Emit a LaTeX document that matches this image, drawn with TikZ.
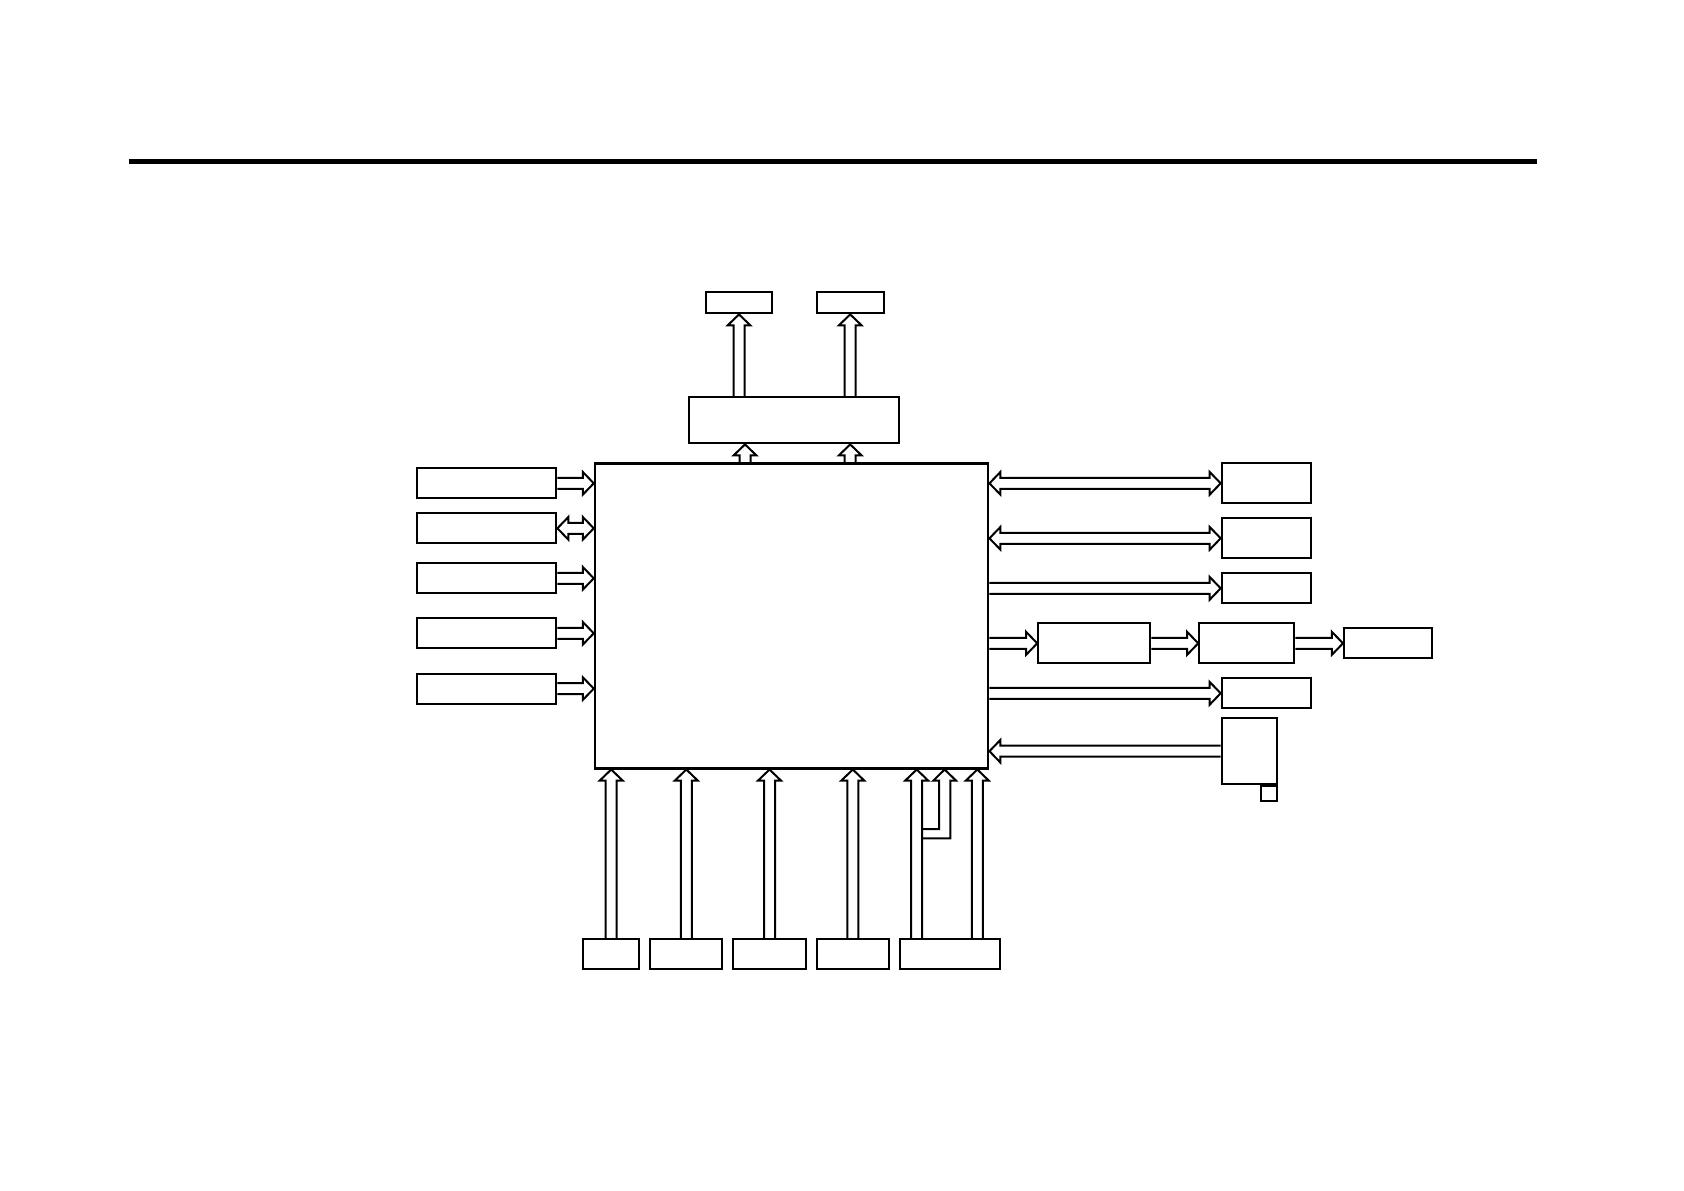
\documentclass[tikz,border=0pt]{standalone}
\usepackage{tikz}
\usetikzlibrary{calc}
\def\shaftw{2.75pt}
\def\headw{5.7pt}
\def\headl{5.5pt}
\tikzstyle{blk}=[rectangle, draw, line width=1.1pt, inner sep=0pt, fill=white]
\tikzstyle{lbox}=[blk, minimum width=69.5pt, minimum height=15pt]
\tikzstyle{rbox}=[blk, minimum width=44.65pt, minimum height=15pt]
\tikzstyle{bbox}=[blk, minimum height=15pt]
\tikzstyle{fatline}=[line width=1pt, line join=miter]
\tikzstyle{fat}=[fatline, to path={
	($(\tikztostart)!\shaftw!90:(\tikztotarget)$)
	-- ($(\tikztotarget)!\headl!(\tikztostart)!\shaftw!-90:(\tikztostart)$)
	-- ($(\tikztotarget)!\headl!(\tikztostart)!\headw!-90:(\tikztostart)$)
	-- (\tikztotarget)
	-- ($(\tikztotarget)!\headl!(\tikztostart)!\headw!90:(\tikztostart)$)
	-- ($(\tikztotarget)!\headl!(\tikztostart)!\shaftw!90:(\tikztostart)$)
	-- ($(\tikztostart)!\shaftw!-90:(\tikztotarget)$)}]
\tikzstyle{fatboth}=[fatline, to path={
	(\tikztostart)
	-- ($(\tikztostart)!\headl!(\tikztotarget)!\headw!90:(\tikztotarget)$)
	-- ($(\tikztostart)!\headl!(\tikztotarget)!\shaftw!90:(\tikztotarget)$)
	-- ($(\tikztotarget)!\headl!(\tikztostart)!\shaftw!-90:(\tikztostart)$)
	-- ($(\tikztotarget)!\headl!(\tikztostart)!\headw!-90:(\tikztostart)$)
	-- (\tikztotarget)
	-- ($(\tikztotarget)!\headl!(\tikztostart)!\headw!90:(\tikztostart)$)
	-- ($(\tikztotarget)!\headl!(\tikztostart)!\shaftw!90:(\tikztostart)$)
	-- ($(\tikztostart)!\headl!(\tikztotarget)!\shaftw!-90:(\tikztotarget)$)
	-- ($(\tikztostart)!\headl!(\tikztotarget)!\headw!-90:(\tikztotarget)$)
	-- cycle}]
\tikzstyle{rule}=[-, line width=2.5pt]

\begin{document}
\begin{tikzpicture}[x=1pt,y=-1pt]
	\useasboundingbox (0,0) rectangle (842,595);
	
	%The rule at the top
	\draw[rule] (64.5,80.75) -- (768.4,80.75);
	
	%The core block
	\draw (395.8,307.9) node[blk, line width=1.2pt, minimum width=196.65pt, minimum height=152.5pt] (M) {};
	
	%The blocks above
	\draw (397.15,210.15) node[blk, minimum width=105pt, minimum height=23pt] (MB) {};
	\draw (369.5,151.4) node[blk, minimum width=33.3pt, minimum height=10.5pt] (T1) {};
	\draw (425.1,151.4) node[blk, minimum width=33.5pt, minimum height=10.5pt] (T2) {};
	\coordinate (u1) at (372.5,0);
	
	\draw[fat] (T1 |- MB.north) to (T1.south);
	\draw[fat] (T2 |- MB.north) to (T2.south);
	\draw[fat] (u1 |- M.north) to (u1 |- MB.south);
	\draw[fat] (T2 |- M.north) to (T2 |- MB.south);
	
	%The inputs on the left
	\draw (243.4,241.65) node[lbox] (L1) {};
	\draw (243.4,264.15) node[lbox] (L2) {};
	\draw (243.4,289.15) node[lbox] (L3) {};
	\draw (243.4,316.65) node[lbox] (L4) {};
	\draw (243.4,344.3) node[lbox] (L5) {};
	
	\draw[fat] (L1.east) to (L1.east -| M.west);
	\draw[fatboth] (L2.east) to (L2.east -| M.west);
	\draw[fat] (L3.east) to (L3.east -| M.west);
	\draw[fat] (L4.east) to (L4.east -| M.west);
	\draw[fat] (L5.east) to (L5.east -| M.west);
	
	%The outputs on the right
	\draw (633.2,241.65) node[rbox, minimum height=20pt] (R1) {};
	\draw (633.2,269.15) node[rbox, minimum height=20pt] (R2) {};
	\draw (633.2,294.15) node[rbox] (R3) {};
	\draw (547.15,321.65) node[blk, minimum width=56pt, minimum height=20pt] (C1) {};
	\draw (623.4,321.65) node[blk, minimum width=47.5pt, minimum height=20pt] (C2) {};
	\draw (694.1,321.65) node[blk, minimum width=44.15pt, minimum height=15pt] (C3) {};
	\draw (633.2,346.65) node[rbox] (R5) {};
	\draw (624.75,375.6) node[blk, minimum width=27.8pt, minimum height=32.85pt] (R6) {};
	\draw (R6.south east) node[blk, anchor=north east, minimum width=8.3pt, minimum height=7.5pt] (S6) {};
	
	\draw[fatboth] (R1.west -| M.east) to (R1.west);
	\draw[fatboth] (R2.west -| M.east) to (R2.west);
	\draw[fat] (R3.west -| M.east) to (R3.west);
	\draw[fat] (C1.west -| M.east) to (C1.west);
	\draw[fat] (C1.east) to (C2.west);
	\draw[fat] (C2.east) to (C3.west);
	\draw[fat] (R5.west -| M.east) to (R5.west);
	\draw[fat] (R6.west) to (R6.west -| M.east);
	
	%The inputs below
	\draw (305.6,477) node[bbox, minimum width=27.85pt] (B1) {};
	\draw (343.15,477) node[bbox, minimum width=36pt] (B2) {};
	\draw (384.75,477) node[bbox, minimum width=36.2pt] (B3) {};
	\draw (426.4,477) node[bbox, minimum width=36.15pt] (B4) {};
	\draw (475,477) node[bbox, minimum width=50pt] (B5) {};
	\coordinate (p5a) at (458.35,0);
	\coordinate (p5b) at (472.3,414.5);
	\coordinate (p5c) at (488.65,0);
	
	\draw[fat] (B1.north) to (B1.north |- M.south);
	\draw[fat] (B2.north) to (B2.north |- M.south);
	\draw[fat] (B3.north) to (B3.north |- M.south);
	\draw[fat] (B4.north) to (B4.north |- M.south);
	\draw[fat] (p5a |- B5.north) to (p5a |- M.south);
	\draw[fat] (p5c |- B5.north) to (p5c |- M.south);
	
	%The branch off the left arrow of B5
	\draw[fatline] ($(p5b)+(-11.2,0)$) -| ($(p5b |- M.south)+(-2.75,5.5)$)
		-- ++(-2.85,0) -- (p5b |- M.south) -- ++(5.7,5.5) -- ++(-2.85,0)
		|- ($(p5b)+(-11.2,4.65)$);
\end{tikzpicture}
\end{document}
